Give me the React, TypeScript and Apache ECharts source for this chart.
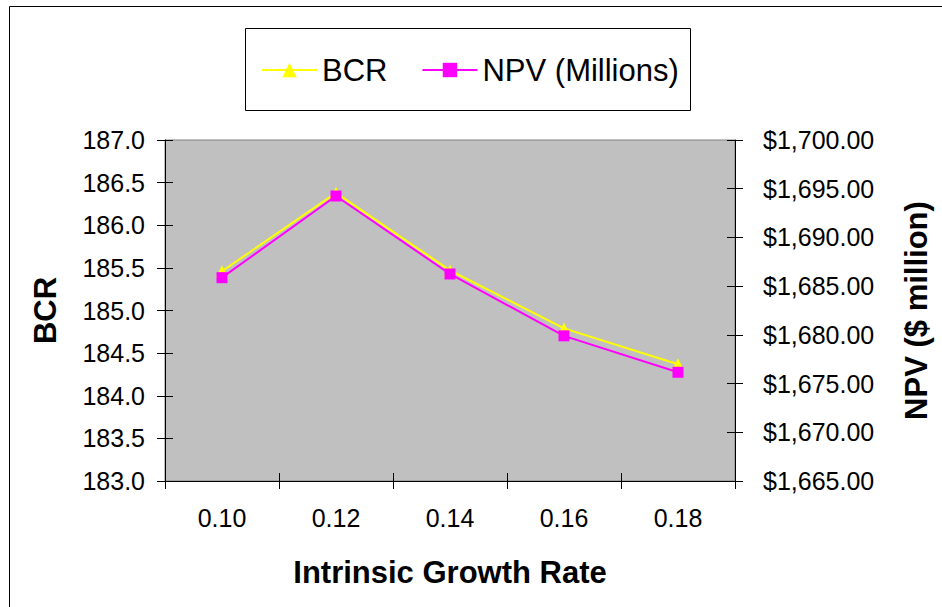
import React, { useEffect, useRef } from "react";
import * as echarts from "echarts";

const categories = ["0.10", "0.12", "0.14", "0.16", "0.18"];
const bcrValues = [185.46, 186.38, 185.47, 184.79, 184.37];
const npvValues = [1685.87, 1694.25, 1686.25, 1679.9, 1676.16];
const bcrTicks = { min: 183, max: 187, interval: 0.5 };
const npvTicks = { min: 1665, max: 1700, interval: 5 };

const FONT = "'Liberation Sans', Arial, sans-serif";

function fmtMoney(v: number): string {
  return "$" + v.toFixed(2).replace(/\B(?=(\d{3})+(?!\d))/g, ",");
}

export default function App() {
  const ref = useRef<HTMLDivElement>(null);
  useEffect(() => {
    if (!ref.current) return;
    const chart = echarts.init(ref.current, undefined, { renderer: "svg" });
    const tickLabel = { color: "#000", fontFamily: FONT, fontSize: 25 };
    const nameStyle = { color: "#000", fontFamily: FONT, fontSize: 31, fontWeight: "bold" };
    chart.setOption({
      animation: false,
      backgroundColor: "#fff",
      textStyle: { fontFamily: FONT },
      graphic: [
        {
          type: "rect",
          shape: { x: 9.5, y: 6.5, width: 1000, height: 1000 },
          style: { fill: "none", stroke: "#000", lineWidth: 1 },
          z: -10,
        },
        {
          type: "rect",
          shape: { x: 245.5, y: 28.5, width: 445, height: 82 },
          style: { fill: "#fff", stroke: "#000", lineWidth: 1 },
          z: 0,
        },
      ],
      legend: {
        left: 261,
        top: 54,
        padding: 0,
        itemWidth: 55,
        itemHeight: 18,
        itemGap: 34,
        z: 10,
        textStyle: { color: "#000", fontFamily: FONT, fontSize: 31, lineHeight: 32 },
        data: ["BCR", "NPV (Millions)"],
      },
      grid: {
        left: 165,
        right: 207,
        top: 140,
        bottom: 126,
        show: true,
        backgroundColor: "#C0C0C0",
        borderColor: "#808080",
        borderWidth: 1,
        containLabel: false,
        outerBoundsMode: "none",
      },
      xAxis: [
        {
          type: "category",
          data: categories,
          position: "bottom",
          boundaryGap: true,
          name: "Intrinsic Growth Rate",
          nameLocation: "middle",
          nameGap: 76,
          nameTextStyle: nameStyle,
          axisLine: { show: true, lineStyle: { color: "#000", width: 1 } },
          axisTick: { show: true, inside: false, length: 8, lineStyle: { color: "#000" } },
          axisLabel: { ...tickLabel, margin: 24 },
          splitLine: { show: false },
        },
        {
          type: "category",
          data: categories,
          position: "bottom",
          offset: 0,
          boundaryGap: true,
          axisLine: { show: false },
          axisTick: { show: true, inside: true, length: 8, lineStyle: { color: "#000" } },
          axisLabel: { show: false },
          splitLine: { show: false },
        },
      ],
      yAxis: [
        {
          type: "value",
          position: "left",
          min: bcrTicks.min,
          max: bcrTicks.max,
          interval: bcrTicks.interval,
          name: "BCR",
          nameLocation: "middle",
          nameRotate: 90,
          nameGap: 104,
          nameTextStyle: nameStyle,
          axisLine: { show: true, lineStyle: { color: "#000", width: 1 } },
          axisTick: { show: true, inside: false, length: 8, lineStyle: { color: "#000" } },
          axisLabel: { ...tickLabel, margin: 20, formatter: (v: number) => v.toFixed(1) },
          splitLine: { show: false },
        },
        {
          type: "value",
          position: "right",
          min: npvTicks.min,
          max: npvTicks.max,
          interval: npvTicks.interval,
          name: "NPV ($ million)",
          nameLocation: "middle",
          nameRotate: 90,
          nameGap: 166,
          nameTextStyle: nameStyle,
          axisLine: { show: true, lineStyle: { color: "#000", width: 1 } },
          axisTick: { show: true, inside: false, length: 8, lineStyle: { color: "#000" } },
          axisLabel: { ...tickLabel, margin: 28, formatter: (v: number) => fmtMoney(v) },
          splitLine: { show: false },
        },
        {
          type: "value",
          position: "left",
          offset: 0,
          min: bcrTicks.min,
          max: bcrTicks.max,
          interval: bcrTicks.interval,
          axisLine: { show: false },
          axisTick: { show: true, inside: true, length: 8, lineStyle: { color: "#000" } },
          axisLabel: { show: false },
          splitLine: { show: false },
        },
        {
          type: "value",
          position: "right",
          offset: 0,
          min: npvTicks.min,
          max: npvTicks.max,
          interval: npvTicks.interval,
          axisLine: { show: false },
          axisTick: { show: true, inside: true, length: 8, lineStyle: { color: "#000" } },
          axisLabel: { show: false },
          splitLine: { show: false },
        },
      ],
      series: [
        {
          name: "BCR",
          type: "line",
          xAxisIndex: 0,
          yAxisIndex: 0,
          data: bcrValues,
          symbol: "triangle",
          symbolSize: 12,
          lineStyle: { color: "#FFFF00", width: 2 },
          itemStyle: { color: "#FFFF00" },
          z: 3,
        },
        {
          name: "NPV (Millions)",
          type: "line",
          xAxisIndex: 0,
          yAxisIndex: 1,
          data: npvValues,
          symbol: "rect",
          symbolSize: 11,
          lineStyle: { color: "#FF00FF", width: 2 },
          itemStyle: { color: "#FF00FF" },
          z: 4,
        },
      ],
    });
    return () => chart.dispose();
  }, []);
  return (
    <div
      ref={ref}
      style={{ position: "fixed", left: 0, top: 0, width: 942, height: 607 }}
    />
  );
}
